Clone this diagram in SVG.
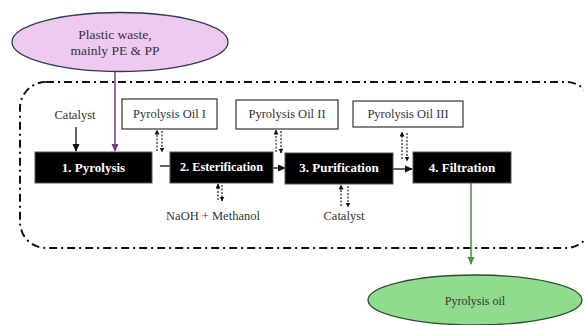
<svg xmlns="http://www.w3.org/2000/svg" width="584" height="325" viewBox="0 0 584 325">
<style>
text{font-family:"Liberation Serif","Times New Roman",serif;fill:#333;font-size:12.5px;text-anchor:middle}
.step{fill:#000;stroke:#555;stroke-width:1}
.steptxt{fill:#fff;font-weight:bold;font-size:13px}
.oil{fill:#fff;stroke:#333;stroke-width:1.2}
.solid{stroke:#111;stroke-width:1.3;fill:none}
.dot{stroke:#111;stroke-width:1.1;stroke-dasharray:2,1.5;fill:none}
</style>
<defs>
<marker id="ah" markerWidth="8" markerHeight="8" refX="7" refY="4" orient="auto" markerUnits="userSpaceOnUse"><path d="M0,0.5 L8,4 L0,7.5 Z" fill="#111"/></marker>
<marker id="sh" markerWidth="5" markerHeight="5" refX="4.5" refY="2.5" orient="auto" markerUnits="userSpaceOnUse"><path d="M0,0 L5,2.5 L0,5 Z" fill="#111"/></marker>
<marker id="ph" markerWidth="8" markerHeight="8" refX="7" refY="4" orient="auto" markerUnits="userSpaceOnUse"><path d="M0,0.5 L8,4 L0,7.5 Z" fill="#7b3a7e"/></marker>
<marker id="gh" markerWidth="8" markerHeight="8" refX="7" refY="4" orient="auto" markerUnits="userSpaceOnUse"><path d="M0,0.5 L8,4 L0,7.5 Z" fill="#4f8f3a"/></marker>
</defs>
<rect x="0" y="0" width="584" height="325" fill="#fff"/>
<g id="boundary">
<rect x="20" y="82" width="572" height="166" rx="26" ry="26" fill="none" stroke="#111" stroke-width="2" stroke-dasharray="8,4,2,4"/>
</g>
<g id="connectors">
<line x1="115" y1="72" x2="115" y2="151" stroke="#7b3a7e" stroke-width="1.5" marker-end="url(#ph)"/>
<line x1="76" y1="127" x2="76" y2="151" class="solid" marker-end="url(#ah)"/>
<line x1="160" y1="166" x2="170" y2="166" class="solid"/>
<line x1="273" y1="168" x2="285" y2="168" class="solid" marker-end="url(#ah)"/>
<line x1="393" y1="169" x2="412" y2="169" class="solid" marker-end="url(#ah)"/>
<line x1="471" y1="183" x2="471" y2="264" stroke="#4f8f3a" stroke-width="1.5" marker-end="url(#gh)"/>
<line x1="157" y1="151" x2="157" y2="130" class="dot" marker-end="url(#sh)"/>
<line x1="162" y1="131" x2="162" y2="152" class="dot" marker-end="url(#sh)"/>
<line x1="276" y1="152" x2="276" y2="130" class="dot" marker-end="url(#sh)"/>
<line x1="281" y1="131" x2="281" y2="153" class="dot" marker-end="url(#sh)"/>
<line x1="402" y1="159" x2="402" y2="132" class="dot" marker-end="url(#sh)"/>
<line x1="407" y1="133" x2="407" y2="161" class="dot" marker-end="url(#sh)"/>
<line x1="218" y1="200" x2="218" y2="184" class="dot" marker-end="url(#sh)"/>
<line x1="222" y1="185" x2="222" y2="201" class="dot" marker-end="url(#sh)"/>
<line x1="341" y1="206" x2="341" y2="185" class="dot" marker-end="url(#sh)"/>
<line x1="348" y1="186" x2="348" y2="207" class="dot" marker-end="url(#sh)"/>
</g>
<g id="plastic">
<ellipse cx="120" cy="42" rx="108" ry="29.5" fill="#efc9ef" stroke="#2c3a4e" stroke-width="1.3"/>
<text x="115" y="39" style="font-size:13.5px">Plastic waste,</text>
<text x="115" y="55" style="font-size:13.5px">mainly PE &amp; PP</text>
</g>
<g id="catalyst1"><text x="75" y="119">Catalyst</text></g>
<g id="oil1"><rect class="oil" x="122" y="99" width="95" height="30"/><text x="169.5" y="118">Pyrolysis Oil I</text></g>
<g id="oil2"><rect class="oil" x="236" y="100" width="102" height="29"/><text x="287" y="118">Pyrolysis Oil II</text></g>
<g id="oil3"><rect class="oil" x="353" y="101" width="110" height="26"/><text x="408" y="118">Pyrolysis Oil III</text></g>
<g id="step1"><rect class="step" x="35" y="152" width="117" height="31"/><text class="steptxt" x="93.5" y="172">1. Pyrolysis</text></g>
<g id="step2"><rect class="step" x="170" y="152" width="103" height="31"/><text class="steptxt" x="221.5" y="171" textLength="83" lengthAdjust="spacingAndGlyphs">2. Esterification</text></g>
<g id="step3"><rect class="step" x="285" y="153" width="108" height="31"/><text class="steptxt" x="339" y="172">3. Purification</text></g>
<g id="step4"><rect class="step" x="413" y="152" width="98" height="31"/><text class="steptxt" x="462" y="172">4. Filtration</text></g>
<g id="naoh"><text x="213" y="220">NaOH + Methanol</text></g>
<g id="catalyst2"><text x="344" y="220">Catalyst</text></g>
<g id="product">
<ellipse cx="475" cy="300" rx="107" ry="25" fill="#8fdd8c" stroke="#2e4a34" stroke-width="1.3"/>
<text x="475" y="305" style="font-size:12px">Pyrolysis oil</text>
</g>
</svg>
